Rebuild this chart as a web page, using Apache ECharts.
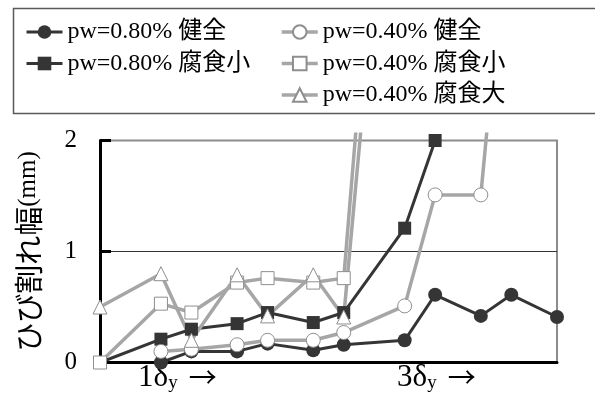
<!DOCTYPE html>
<html>
<head>
<meta charset="utf-8">
<script src="https://cdn.jsdelivr.net/npm/echarts@6/dist/echarts.min.js"></script>
<style>
  html, body { margin: 0; padding: 0; background: #fff; }
  #chart { width: 595px; height: 398px; }
</style>
</head>
<body>
<div id="chart"></div>
<script>
// Loading steps (x) and crack widths in mm (y) for each specimen
const seriesNames = ['pw=0.80% 健全', 'pw=0.80% 腐食小', 'pw=0.40% 健全', 'pw=0.40% 腐食小', 'pw=0.40% 腐食大'];

const stepA = [4, 6, 9, 11, 14, 16, 20, 22, 25, 27, 30, 32];
const widthA = [0.0, 0.1, 0.1, 0.17, 0.11, 0.16, 0.2, 0.61, 0.42, 0.61, 0.41, 0.78];

const stepB = [0, 4, 6, 9, 11, 14, 16, 20, 22];
const widthB = [0, 0.21, 0.3, 0.35, 0.45, 0.36, 0.45, 1.21, 2.0];

const stepC = [4, 6, 9, 11, 14, 16, 20, 22, 25, 27];
const widthC = [0.1, 0.12, 0.16, 0.2, 0.2, 0.27, 0.51, 1.51, 1.51, 4.4];

const stepD = [0, 4, 6, 9, 11, 14, 16, 20];
const widthD = [0, 0.53, 0.45, 0.72, 0.76, 0.72, 0.76, 7.4];

const stepE = [0, 4, 6, 9, 11, 14, 16, 20];
const widthE = [0.5, 0.8, 0.2, 0.79, 0.42, 0.79, 0.41, 6.4];

// y-axis ticks and the yield-displacement marks on the x axis
const yTicks = { min: 0, max: 2, interval: 1 };
const xRange = { min: 0, max: 30, interval: 0.5 };
const xMarks = [
  { at: 2.5, n: '1' },
  { at: 19.5, n: '3' }
];

const pairs = (xs, ys) => xs.map((x, i) => [x, ys[i]]);

const DARK = '#353535';
const GRAY = '#a6a6a6';
const GRAY_EDGE = '#8e8e8e';
const SERIF = '"Liberation Serif", "Noto Sans CJK JP", serif';
const CJK = '"Noto Sans CJK JP", sans-serif';

function darkSeries(name, data, symbol, size) {
  return {
    name, type: 'line', data, symbol, symbolSize: size, clip: false,
    lineStyle: { color: DARK, width: 3 },
    itemStyle: { color: DARK, borderColor: DARK, borderWidth: 0 },
    emphasis: { disabled: true }
  };
}
function graySeries(name, data, symbol, size) {
  return {
    name, type: 'line', data, symbol, symbolSize: size, clip: false,
    lineStyle: { color: GRAY, width: 3.5 },
    itemStyle: { color: '#ffffff', borderColor: GRAY_EDGE, borderWidth: 1 },
    emphasis: { disabled: true }
  };
}

const legendText = { fontFamily: SERIF, fontSize: 24, color: '#000', lineHeight: 25 };
const legendBase = {
  orient: 'vertical', top: 19.5, padding: 0, itemWidth: 36, itemHeight: 17, itemGap: 6.5,
  zlevel: 2, z: 10, textStyle: legendText, selectedMode: false
};

const chart = echarts.init(document.getElementById('chart'), null, { renderer: 'canvas' });
chart.setOption({
  animation: false,
  backgroundColor: '#fff',
  grid: {
    left: 100, right: 38, top: 140.5, bottom: 35.5,
    show: true, borderColor: '#8c8c8c', borderWidth: 2, backgroundColor: 'transparent'
  },
  legend: [
    Object.assign({}, legendBase, {
      data: seriesNames.slice(0, 2), left: 25, lineStyle: { width: 3 }
    }),
    Object.assign({}, legendBase, {
      data: seriesNames.slice(2), left: 280, lineStyle: { width: 3.5 }
    })
  ],
  xAxis: {
    type: 'value', min: xRange.min, max: xRange.max, interval: xRange.interval,
    axisLine: { show: true, onZero: false, lineStyle: { color: '#000', width: 3 } },
    axisTick: { show: false },
    splitLine: { show: false },
    axisLabel: {
      interval: 0, hideOverlap: false, margin: 0, align: 'left',
      formatter: function (v) {
        const m = xMarks.find(k => Math.abs(k.at - v) < 1e-6);
        return m ? '{n|' + m.n + '}{d|δ}{s|y}{a|→}' : '';
      },
      rich: {
        n: { fontFamily: SERIF, fontSize: 31, lineHeight: 30, color: '#000' },
        d: { fontFamily: SERIF, fontSize: 31, lineHeight: 30, color: '#000' },
        s: { fontFamily: SERIF, fontSize: 19, lineHeight: 16, verticalAlign: 'bottom', color: '#000' },
        a: { fontFamily: CJK, fontSize: 28, lineHeight: 30, color: '#000', padding: [0, 0, 0, 11] }
      }
    }
  },
  yAxis: {
    type: 'value', min: yTicks.min, max: yTicks.max, interval: yTicks.interval,
    axisLine: { show: true, lineStyle: { color: '#000', width: 3 } },
    axisTick: { show: true, inside: true, length: 11, lineStyle: { color: '#000', width: 3 } },
    axisLabel: { fontFamily: SERIF, fontSize: 25, color: '#000', margin: 23 },
    splitLine: { show: true, showMinLine: false, showMaxLine: false, lineStyle: { color: '#333', width: 1 } },
    name: '{c|ひび割れ幅}{m|(mm)}',
    nameLocation: 'middle', nameRotate: 90, nameGap: 57,
    nameTextStyle: {
      rich: {
        c: { fontFamily: CJK, fontSize: 29, color: '#000' },
        m: { fontFamily: SERIF, fontSize: 25, color: '#000' }
      }
    }
  },
  graphic: [
    // white masks bounding the drawing area slightly beyond the axes
    { type: 'rect', zlevel: 1, silent: true, shape: { x: 95, y: 0, width: 500, height: 132.5 }, style: { fill: '#fff' } },
    { type: 'rect', zlevel: 1, silent: true, shape: { x: 566, y: 120, width: 29, height: 278 }, style: { fill: '#fff' } },
    // legend frame
    { type: 'rect', zlevel: 2, z: 11, silent: true, shape: { x: 13.5, y: 8.5, width: 620, height: 105 },
      style: { fill: 'none', stroke: '#5a5a5a', lineWidth: 1.5 } }
  ],
  series: [
    darkSeries(seriesNames[0], pairs(stepA, widthA), 'circle', 14),
    darkSeries(seriesNames[1], pairs(stepB, widthB), 'rect', 13),
    graySeries(seriesNames[2], pairs(stepC, widthC), 'circle', 14),
    graySeries(seriesNames[3], pairs(stepD, widthD), 'rect', 13),
    graySeries(seriesNames[4], pairs(stepE, widthE), 'triangle', 14)
  ]
});
</script>
</body>
</html>
